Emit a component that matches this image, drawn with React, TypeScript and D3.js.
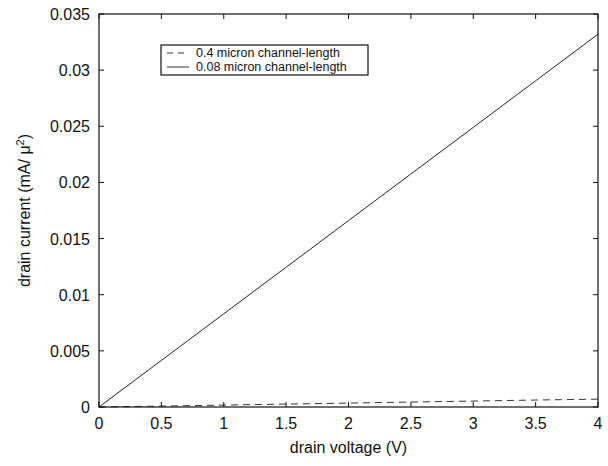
import React from "react";
import * as d3 from "d3";

const voltages = [0, 0.5, 1, 1.5, 2, 2.5, 3, 3.5, 4];
const longChannel = [0, 0.00008, 0.00017, 0.00026, 0.00035, 0.00044, 0.00053, 0.00062, 0.0007];
const shortChannel = [0, 0.00415, 0.0083, 0.01245, 0.0166, 0.02075, 0.0249, 0.02905, 0.0332];
const xTicks = [0, 0.5, 1, 1.5, 2, 2.5, 3, 3.5, 4];
const yTicks = [0, 0.005, 0.01, 0.015, 0.02, 0.025, 0.03, 0.035];
const legendLabels = ["0.4 micron channel-length", "0.08 micron channel-length"];

const W = 608, H = 466;
const L = 99, R = 598, T = 14, B = 407;
const font = "'Liberation Sans', Arial, Helvetica, sans-serif";

export default function App() {
  const x = d3.scaleLinear().domain([0, 4]).range([L, R]);
  const y = d3.scaleLinear().domain([0, 0.035]).range([B, T]);
  const line = d3.line<number>().x((_, i) => x(voltages[i])).y((d) => y(d));
  const fmt = (v: number) => (v === 0 ? "0" : String(+v.toFixed(3)));
  const tl = 5;
  return (
    <svg width={W} height={H} style={{ position: "absolute", left: 0, top: 0, background: "#fff" }} fontFamily={font}>
      <rect x={0} y={0} width={W} height={H} fill="#fff" />
      <path d={line(shortChannel) || ""} fill="none" stroke="#222" strokeWidth={1} />
      <path d={line(longChannel) || ""} fill="none" stroke="#333" strokeWidth={1} strokeDasharray="7,5" />
      <rect x={L} y={T} width={R - L} height={B - T} fill="none" stroke="#111" strokeWidth={1.2} />
      {xTicks.map((t) => (
        <g key={"x" + t}>
          <line x1={x(t)} x2={x(t)} y1={B} y2={B - tl} stroke="#111" />
          <line x1={x(t)} x2={x(t)} y1={T} y2={T + tl} stroke="#111" />
          <text x={x(t)} y={429} fontSize={16} textAnchor="middle" fill="#111">{fmt(t)}</text>
        </g>
      ))}
      {yTicks.map((t) => (
        <g key={"y" + t}>
          <line x1={L} x2={L + tl} y1={y(t)} y2={y(t)} stroke="#111" />
          <line x1={R} x2={R - tl} y1={y(t)} y2={y(t)} stroke="#111" />
          <text x={90} y={y(t) + 6} fontSize={16} textAnchor="end" fill="#111">{fmt(t)}</text>
        </g>
      ))}
      <text x={(L + R) / 2} y={453} fontSize={16} textAnchor="middle" fill="#111">drain voltage (V)</text>
      <text transform={`translate(30,${(T + B) / 2}) rotate(-90)`} fontSize={16} textAnchor="middle" fill="#111">
        drain current (mA/ μ<tspan dy={-6} fontSize={11}>2</tspan><tspan dy={6}>)</tspan>
      </text>
      <g>
        <rect x={161} y={45} width={207} height={30} fill="#fff" stroke="#111" strokeWidth={1.2} />
        <line x1={167} x2={189} y1={53} y2={53} stroke="#333" strokeDasharray="6,5" />
        <text x={196} y={57} fontSize={12.5} fill="#111">{legendLabels[0]}</text>
        <line x1={167} x2={189} y1={67} y2={67} stroke="#333" />
        <text x={196} y={71} fontSize={12.5} fill="#111">{legendLabels[1]}</text>
      </g>
    </svg>
  );
}
